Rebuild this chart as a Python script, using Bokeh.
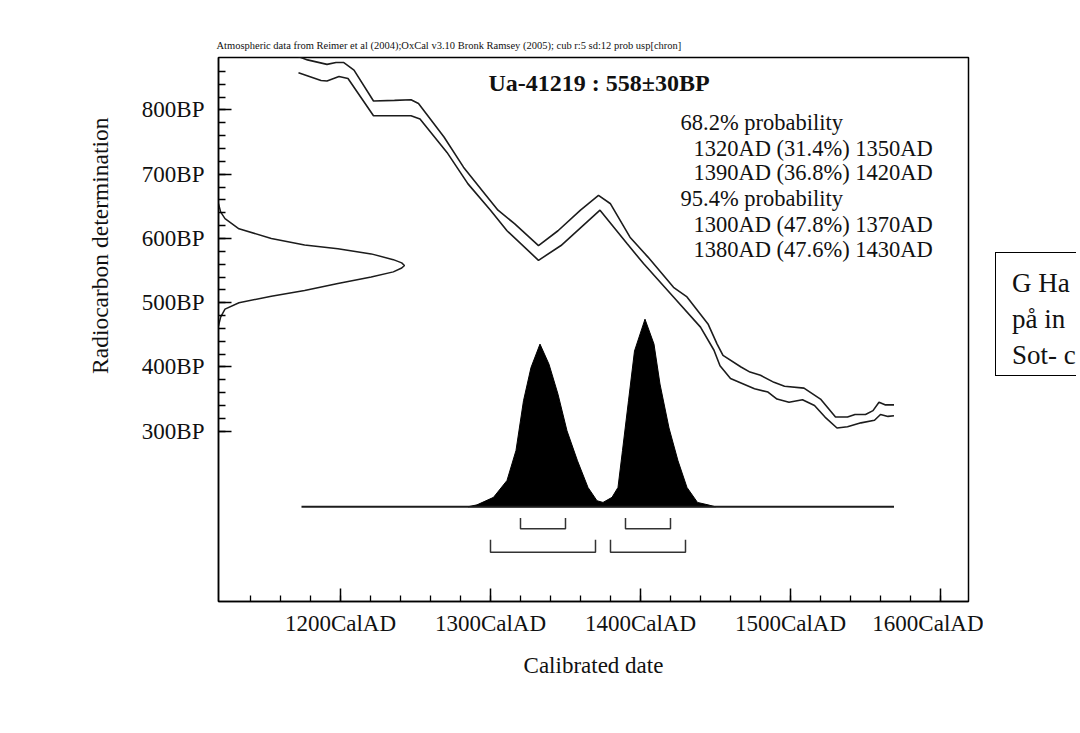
from bokeh.plotting import figure
from bokeh.models import Label, FixedTicker, Range1d, CustomJSTickFormatter, Title, Div
from bokeh.layouts import row
from bokeh.embed import file_html
from bokeh.resources import INLINE

# ---------------- data ----------------
# calibration curve, upper and lower envelope (calendar year AD, radiocarbon BP)
cal_upper_year = [1171, 1178, 1191, 1197, 1202, 1209, 1222, 1236, 1247, 1252, 1269, 1282,
                  1296, 1305, 1316, 1332, 1345, 1360, 1372, 1380, 1393, 1405, 1422, 1431,
                  1445, 1451, 1455, 1467, 1473, 1480, 1489, 1496, 1509, 1520, 1530, 1538,
                  1543, 1550, 1555, 1559, 1563, 1569]
cal_upper_bp = [884, 878, 871, 874, 874, 862, 814, 815, 816, 810, 758, 711,
                670, 644, 623, 589, 612, 644, 667, 654, 602, 571, 524, 509,
                467, 436, 418, 400, 392, 387, 376, 370, 367, 350, 322, 322,
                326, 326, 332, 345, 341, 341]
cal_lower_year = [1172, 1187, 1191, 1199, 1205, 1222, 1247, 1253, 1271, 1285, 1300, 1311,
                  1332, 1347, 1373, 1391, 1402, 1422, 1440, 1449, 1453, 1460, 1467, 1476,
                  1485, 1491, 1499, 1508, 1516, 1523, 1531, 1538, 1547, 1556, 1560, 1565, 1569]
cal_lower_bp = [858, 846, 845, 852, 849, 791, 791, 786, 734, 685, 644, 612,
                566, 589, 644, 592, 561, 509, 462, 426, 402, 382, 375, 366,
                361, 350, 345, 349, 340, 322, 305, 307, 313, 317, 326, 323, 324]

# radiocarbon measurement distribution (BP, relative probability)
meas_bp = [654, 641, 631, 615, 600, 590, 584, 576, 567, 562, 558, 554, 548, 540, 530, 519,
           510, 500, 490, 478, 464]
meas_rel = [0, 0.012, 0.035, 0.11, 0.284, 0.463, 0.642, 0.821, 0.94, 0.985, 1.0, 0.985, 0.94,
            0.821, 0.642, 0.463, 0.284, 0.11, 0.035, 0.012, 0]

# calibrated distribution (year AD, relative probability)
post_year = [1285, 1291, 1302, 1311, 1317, 1322, 1327, 1333, 1339, 1345, 1351, 1358, 1365,
             1371, 1375, 1381, 1385, 1388, 1392, 1396, 1403, 1409, 1413, 1419, 1425, 1431,
             1438, 1445, 1450]
post_rel = [0, 0.01, 0.05, 0.14, 0.30, 0.565, 0.742, 0.867, 0.76, 0.60, 0.405, 0.245, 0.103,
            0.032, 0.023, 0.05, 0.103, 0.30, 0.565, 0.83, 1.0, 0.867, 0.654, 0.42, 0.245, 0.103,
            0.023, 0.01, 0]
baseline_years = [1174, 1569]

# probability ranges
ranges_68 = [(1320, 1350), (1390, 1420)]
ranges_95 = [(1300, 1370), (1380, 1430)]

x_major = [1200, 1300, 1400, 1500, 1600]
x_minor = list(range(1140, 1601, 20))
y_major = [300, 400, 500, 600, 700, 800]
y_minor = list(range(300, 861, 20))

header_text = ("Atmospheric data from Reimer et al (2004);OxCal v3.10 Bronk Ramsey (2005); "
               "cub r:5 sd:12 prob usp[chron]")
title_text = "Ua-41219 : 558\u00b130BP"
x_label = "Calibrated date"
y_label = "Radiocarbon determination"
prob_lines = ["68.2% probability",
              "1320AD (31.4%) 1350AD",
              "1390AD (36.8%) 1420AD",
              "95.4% probability",
              "1300AD (47.8%) 1370AD",
              "1380AD (47.6%) 1430AD"]
box_lines = ["G Ha", "p\u00e5 in", "Sot- c"]

# ---------------- layout ----------------
FONT = "Liberation Serif"
X0, X1 = 1118.67, 1618.67
Y0, Y1 = 34.9, 881.7
FL, FT, FW, FH = 218, 57, 750, 544
W, H = 983, 726

def rx(px):
    return X0 + (px - FL) * (X1 - X0) / FW

def ry(py):
    return Y1 - (py - FT) * (Y1 - Y0) / FH

p = figure(frame_width=FW, frame_height=FH,
           min_border_left=FL, min_border_top=FT,
           min_border_right=W - FL - FW, min_border_bottom=H - FT - FH,
           x_range=Range1d(X0, X1), y_range=Range1d(Y0, Y1),
           output_backend="svg", toolbar_location=None)
p.xgrid.visible = False
p.ygrid.visible = False
p.background_fill_color = "white"
p.border_fill_color = "white"
p.outline_line_color = "black"
p.outline_line_width = 1.5

ink = "#1c1c1c"

# axes
xa = p.xaxis[0]
xa.ticker = FixedTicker(ticks=x_major, minor_ticks=x_minor)
xa.formatter = CustomJSTickFormatter(code="return tick.toFixed(0) + 'CalAD'")
xa.axis_label = x_label
ya = p.yaxis[0]
ya.ticker = FixedTicker(ticks=y_major, minor_ticks=y_minor)
ya.formatter = CustomJSTickFormatter(code="return tick.toFixed(0) + 'BP'")
for ax in (xa, ya):
    ax.axis_line_color = "black"
    ax.axis_line_width = 1.5
    ax.major_tick_line_color = "black"
    ax.minor_tick_line_color = "black"
    ax.major_tick_line_width = 1.5
    ax.minor_tick_line_width = 1.3
    ax.major_tick_out = 0
    ax.minor_tick_out = 0
    ax.major_label_text_font = FONT
    ax.major_label_text_font_size = "23px"
    ax.major_label_text_color = "#111111"
    ax.axis_label_text_font = FONT
    ax.axis_label_text_font_style = "normal"
    ax.axis_label_text_color = "#111111"
xa.axis_label_text_font_size = "23px"
xa.major_tick_in = 13
xa.minor_tick_in = 6
xa.major_label_standoff = 9
xa.axis_label_standoff = 14
ya.major_tick_in = 13
ya.minor_tick_in = 7
ya.major_label_standoff = 14

# y axis label (placed toward the top, as in the original)
p.add_layout(Title(text=y_label, text_font=FONT, text_font_size="23.5px",
                   text_font_style="normal", text_color="#111111", align="right",
                   offset=60, standoff=52), "left")

# header line above the frame
p.add_layout(Title(text=header_text, text_font=FONT, text_font_size="10.5px",
                   text_font_style="normal", text_color="#111111", align="left",
                   offset=-2, standoff=13), "above")

# calibration curve
p.line(cal_upper_year, cal_upper_bp, line_color=ink, line_width=1.6)
p.line(cal_lower_year, cal_lower_bp, line_color=ink, line_width=1.6)

# measurement distribution on y axis
GW = 124.0
p.line([X0 + r * GW for r in meas_rel], meas_bp, line_color=ink, line_width=1.5)

# calibrated distribution
BASE, PH = 182.4, 292.0
p.patch(post_year, [BASE + r * PH for r in post_rel], fill_color="black", line_color="black", line_width=1)
p.line(baseline_years, [BASE, BASE], line_color=ink, line_width=1.8)

# range brackets
def brackets(rngs, yl, yt):
    return [[a, a, b, b] for a, b in rngs], [[yt, yl, yl, yt] for _ in rngs]

xs68, ys68 = brackets(ranges_68, 148.0, 165.0)
xs95, ys95 = brackets(ranges_95, 111.6, 131.0)
p.multi_line(xs68, ys68, line_color="#333333", line_width=1.5)
p.multi_line(xs95, ys95, line_color="#333333", line_width=1.5)

# texts inside the frame
p.add_layout(Label(x=rx(488), y=ry(82), text=title_text, text_font=FONT,
                   text_font_size="24px", text_font_style="bold",
                   text_baseline="middle", text_align="left", text_color="#111111"))
prob_x = [680, 693, 693, 680, 693, 693]
prob_y = [122, 148, 172, 198, 224, 249]
for t, px, py in zip(prob_lines, prob_x, prob_y):
    p.add_layout(Label(x=rx(px), y=ry(py), text=t, text_font=FONT, text_font_size="22.5px",
                       text_baseline="middle", text_align="left", text_color="#111111"))

# text box at the right edge of the page (cut off by the page edge)
box_html = (
    '<div style="width:93px;height:420px;overflow:hidden;">'
    '<div style="margin-top:252px;margin-left:12px;width:220px;height:124px;'
    'box-sizing:border-box;border:1.3px solid #000;padding:12px 0 0 16px;'
    "font-family:'Liberation Serif';font-size:27px;line-height:36px;color:#111;"
    'white-space:nowrap;background:#fff;">'
    + "<br>".join(box_lines) +
    '</div></div>'
)
box = Div(text=box_html, width=93, height=420, styles={"overflow": "hidden", "margin": "0", "padding": "0"})

layout = row(p, box)
open("out.html", "w").write(file_html(layout, INLINE))
